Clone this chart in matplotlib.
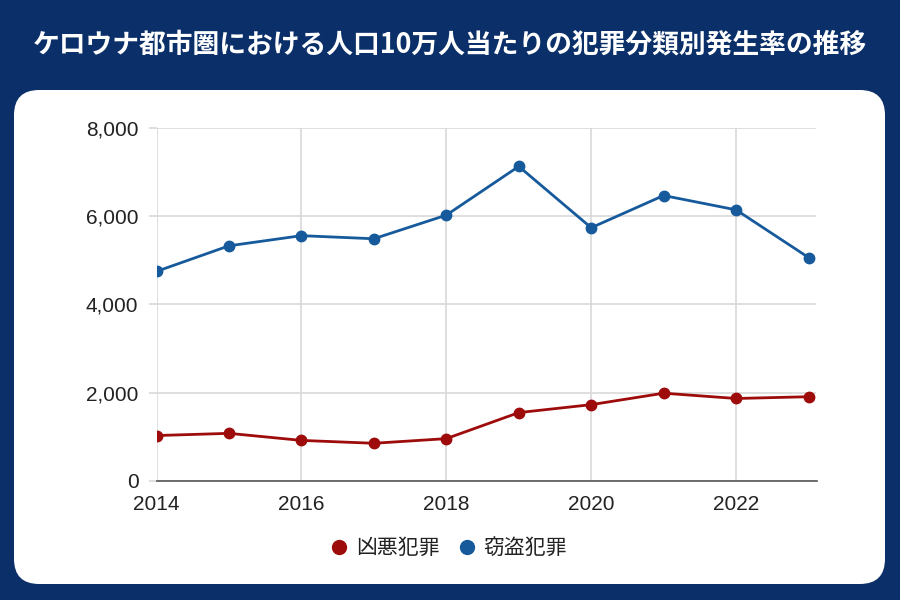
import matplotlib.pyplot as plt
from matplotlib.patches import FancyBboxPatch
import numpy as np

years = [2014, 2015, 2016, 2017, 2018, 2019, 2020, 2021, 2022, 2023]
violent = [1030, 1080, 920, 855, 960, 1550, 1730, 1990, 1870, 1910]
theft = [4750, 5330, 5560, 5490, 6025, 7130, 5740, 6470, 6145, 5065]
labels = ['凶悪犯罪', '窃盗犯罪']
title = 'ケロウナ都市圏における人口10万人当たりの犯罪分類別発生率の推移'

navy = '#0b2f69'
red = '#9e0b0b'
blue = '#165a9c'
W, H = 900, 600

fig = plt.figure(figsize=(9, 6), dpi=100)
fig.patch.set_facecolor(navy)

# white rounded panel, behind the axes
panel = FancyBboxPatch((14/W, 1-584/H), 871/W, 494/H,
                       boxstyle='round,pad=0,rounding_size=0.028',
                       transform=fig.transFigure, facecolor='white',
                       edgecolor='none', mutation_aspect=W/H, zorder=-1)
fig.patches.append(panel)

fig.text(0.5, 1-45/H, title, color='white', fontsize=19.3, fontweight='bold',
         ha='center', va='center', family=['Noto Sans CJK JP', 'DejaVu Sans'])

ax = fig.add_axes([156.5/W, 1-481/H, 660/W, 353/H])
ax.set_facecolor('white')
ax.plot(years, violent, '-o', color=red, lw=2, ms=7.5, label=labels[0], zorder=3)
ax.plot(years, theft, '-o', color=blue, lw=2, ms=7.5, label=labels[1], zorder=3)

ax.set_xlim(2014, 2023.11)
ax.set_ylim(0, 8000)
ax.set_xticks([2014, 2016, 2018, 2020, 2022])
ax.set_yticks([0, 2000, 4000, 6000, 8000])
ax.set_yticklabels(['0', '2,000', '4,000', '6,000', '8,000'])
ax.grid(True, color='#d9d9d9', lw=1.2)
ax.set_axisbelow(True)
for s in ['top', 'right', 'left']:
    ax.spines[s].set_visible(False)
ax.spines['bottom'].set_color('#555555')
ax.spines['bottom'].set_linewidth(1.2)
ax.tick_params(axis='y', length=6, color='#d9d9d9', width=1.2, pad=7,
               labelsize=15, labelcolor='#222222')
ax.tick_params(axis='x', length=0, pad=10, labelsize=15, labelcolor='#222222')
for t in ax.get_xticklabels() + ax.get_yticklabels():
    t.set_family('Liberation Sans')

leg = fig.legend(loc='center', bbox_to_anchor=(0.5, 1-548/H), ncol=2,
                 frameon=False, handlelength=0.6, handletextpad=0.5,
                 columnspacing=1.0, prop={'family': ['Noto Sans CJK JP'], 'size': 15})
for h in leg.legend_handles:
    h.set_linestyle('none')
    h.set_markersize(10)
for t in leg.get_texts():
    t.set_color('#222222')

fig.savefig('out.png', dpi=100, facecolor=navy)
